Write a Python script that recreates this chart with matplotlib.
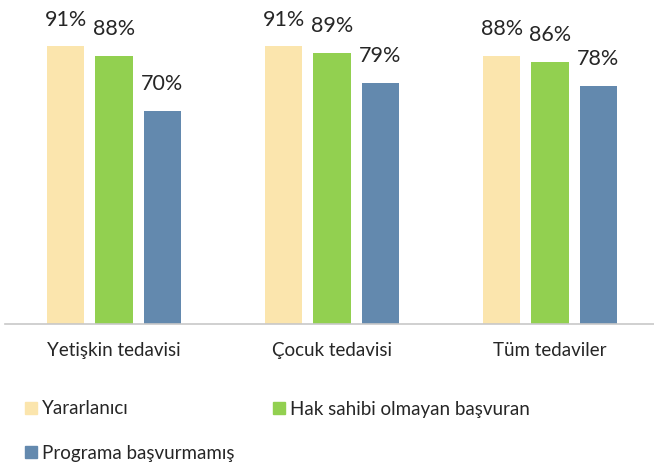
import numpy as np
import matplotlib
matplotlib.use("Agg")
import matplotlib.pyplot as plt
from matplotlib.patches import Patch

categories = ["Yetişkin tedavisi", "Çocuk tedavisi", "Tüm tedaviler"]
series_names = ["Yararlanıcı", "Hak sahibi olmayan başvuran", "Programa başvurmamış"]
yararlanici = [0.91, 0.91, 0.88]
hak_sahibi_olmayan = [0.88, 0.89, 0.86]
basvurmamis = [0.70, 0.79, 0.78]
colors = ["#FBE5AD", "#92D050", "#6389AE"]

plt.rcParams["font.family"] = ["Lato", "DejaVu Sans"]
text_col = "#262626"

W, H = 654, 471
fig = plt.figure(figsize=(W / 100, H / 100), dpi=100)
ax = fig.add_axes([5 / W, (H - 324) / H, 649 / W, 305 / H])

x = np.arange(len(categories))
offsets = [-0.222, 0.0, 0.222]
width = 0.172
all_series = [yararlanici, hak_sahibi_olmayan, basvurmamis]

for off, vals, col, name in zip(offsets, all_series, colors, series_names):
    bars = ax.bar(x + off, vals, width=width, color=col, label=name)
    for b, v in zip(bars, vals):
        ax.annotate(f"{v * 100:.0f}%", (b.get_x() + b.get_width() / 2, v),
                    xytext=(0, 12), textcoords="offset points",
                    ha="center", va="bottom", fontsize=15.5, color=text_col)

ax.set_xlim(-0.5, -0.5 + 649 / 218)
ax.set_ylim(0, 1.0)
ax.set_yticks([])
ax.set_xticks(x)
ax.set_xticklabels(categories, fontsize=13.5, color=text_col)
ax.tick_params(axis="x", length=0, pad=13)
for s in ["top", "right", "left"]:
    ax.spines[s].set_visible(False)
ax.spines["bottom"].set_color("#c8c8c8")
ax.spines["bottom"].set_linewidth(1.2)

# legend entries placed one by one (x of marker, y centre in px)
legend_pos = [(25, 409), (273, 409), (25, 453)]
for (px, py), c, name in zip(legend_pos, colors, series_names):
    fig.legend([Patch(color=c)], [name], loc="center left",
               bbox_to_anchor=(px / W, 1 - py / H), frameon=False,
               fontsize=13.5, handlelength=0.65, handleheight=0.65,
               handletextpad=0.25, borderpad=0, borderaxespad=0,
               labelcolor=text_col)

fig.savefig("out.png", dpi=100)
